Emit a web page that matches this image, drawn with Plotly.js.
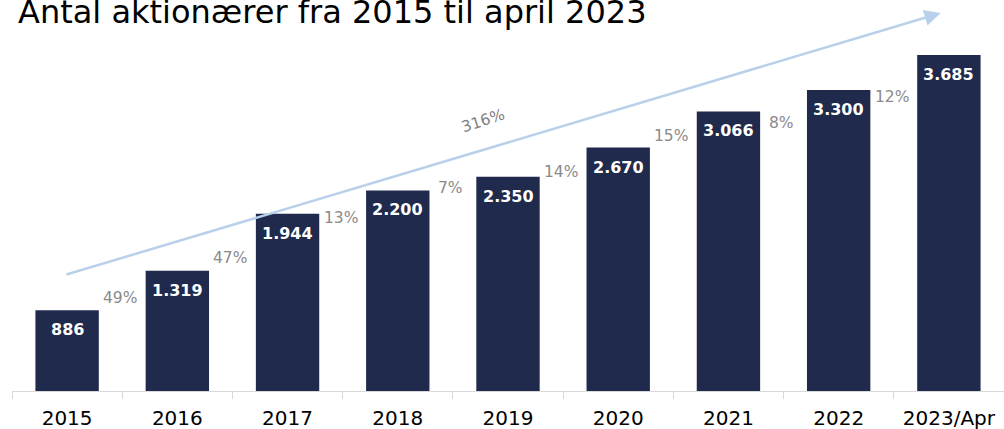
<!DOCTYPE html>
<html>
<head>
<meta charset="utf-8">
<script src="https://cdn.plot.ly/plotly-3.0.1.min.js"></script>
<style>html,body{margin:0;padding:0;background:#fff;}#chart{width:1004px;height:429px;}</style>
</head>
<body>
<div id="chart"></div>
<script>
// ---- data ----
const categories = ['2015', '2016', '2017', '2018', '2019', '2020', '2021', '2022', '2023/Apr'];
const shareholders = [886, 1319, 1944, 2200, 2350, 2670, 3066, 3300, 3685];
const growthLabels = ['49%', '47%', '13%', '7%', '14%', '15%', '8%', '12%'];
const totalGrowthLabel = '316%';
const titleText = 'Antal aktionærer fra 2015 til april 2023';

// ---- layout helpers (positions in axis units) ----
const growthLabelY = [1020, 1458, 1897, 2226, 2401, 2796, 2939, 3224];

function fmt(n) {
  return String(n).replace(/\B(?=(\d{3})+(?!\d))/g, '.');
}

const FONT = 'DejaVu Sans, Verdana, sans-serif';
const BAR = '#1f2a4c';

const annotations = [];
shareholders.forEach((v, i) => {
  annotations.push({
    x: i, y: v, xref: 'x', yref: 'y', text: '<b>' + fmt(v) + '</b>',
    showarrow: false, yanchor: 'top', yshift: -8,
    font: {family: FONT, size: 16, color: '#ffffff'}
  });
});
growthLabels.forEach((g, i) => {
  annotations.push({
    x: i + 0.5, y: growthLabelY[i], xref: 'x', yref: 'y', text: g,
    showarrow: false, xanchor: 'center', yanchor: 'middle', xshift: -2,
    font: {family: FONT, size: 15.5, color: '#8a8a8a'}
  });
});
// overall growth arrow
annotations.push({
  x: 7.926, y: 4145, ax: -0.02, ay: 1272, xref: 'x', yref: 'y', axref: 'x', ayref: 'y',
  text: '', showarrow: true, arrowhead: 2, arrowsize: 1.3, arrowwidth: 2.5,
  arrowcolor: '#b9d0ea', standoff: 0
});
annotations.push({
  x: 3.77, y: 2961, xref: 'x', yref: 'y', text: totalGrowthLabel, showarrow: false,
  textangle: -18, font: {family: FONT, size: 15.5, color: '#7f7f7f'}
});

const trace = {
  type: 'bar',
  x: categories,
  y: shareholders,
  marker: {color: BAR, line: {width: 0}},
  hoverinfo: 'skip'
};

const layout = {
  width: 1004, height: 429,
  margin: {l: 12, r: 0, t: 10, b: 38},
  paper_bgcolor: '#ffffff', plot_bgcolor: '#ffffff',
  bargap: 0.425,
  showlegend: false,
  title: {
    text: titleText,
    font: {family: FONT, size: 32, color: '#000000'},
    xref: 'container', yref: 'container',
    x: 18 / 1004, xanchor: 'left',
    y: 1 - 12 / 429, yanchor: 'middle'
  },
  xaxis: {
    type: 'category',
    showline: true, linecolor: '#d9d9d9', linewidth: 1,
    ticks: 'outside', tickson: 'boundaries', ticklen: 7, tickcolor: '#d9d9d9', tickwidth: 1,
    ticklabelstandoff: 9,
    tickfont: {family: FONT, size: 20, color: '#000000'},
    showgrid: false, zeroline: false, fixedrange: true
  },
  yaxis: {
    range: [0, 4178], visible: false, showgrid: false, zeroline: false, fixedrange: true
  },
  annotations: annotations
};

Plotly.newPlot('chart', [trace], layout, {displayModeBar: false, staticPlot: true});
</script>
</body>
</html>
